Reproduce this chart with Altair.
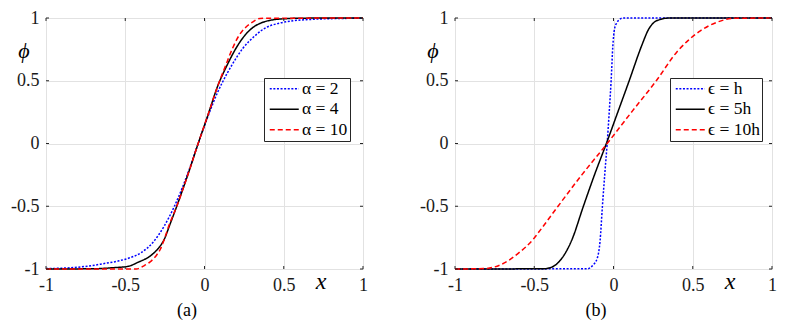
import altair as alt
import pandas as pd

# ---------------- data ----------------
X_TICKS = [-1, -0.5, 0, 0.5, 1]
Y_TICKS = [-1, -0.5, 0, 0.5, 1]

labels_a = ["α = 2", "α = 4", "α = 10"]
labels_b = ["ϵ = h", "ϵ = 5h", "ϵ = 10h"]
captions = ["(a)", "(b)"]
x_label = "x"
y_label = "ϕ"

# panel (a)
x_a2 = [-1.0, -0.85, -0.74, -0.64, -0.54, -0.47, -0.40, -0.32, -0.255, -0.19, -0.10, -0.04,
        0.02, 0.08, 0.11, 0.175, 0.24, 0.32, 0.39, 0.46, 0.56, 0.66, 0.80, 1.0]
phi_a2 = [-0.997, -0.99, -0.978, -0.958, -0.935, -0.91, -0.87, -0.78, -0.66, -0.50, -0.22, 0.0,
          0.21, 0.40, 0.48, 0.63, 0.755, 0.86, 0.925, 0.955, 0.978, 0.988, 0.995, 0.998]

x_a4 = [-1.0, -0.70, -0.58, -0.48, -0.42, -0.34, -0.295, -0.253, -0.221, -0.175, -0.10, -0.04,
        0.02, 0.084, 0.141, 0.196, 0.253, 0.306, 0.36, 0.42, 0.52, 0.65, 1.0]
phi_a4 = [-1.0, -0.998, -0.99, -0.978, -0.947, -0.894, -0.841, -0.761, -0.655, -0.50, -0.23, 0.0,
          0.22, 0.46, 0.62, 0.753, 0.859, 0.925, 0.962, 0.983, 0.995, 0.999, 1.0]

x_a10 = [-1.0, -0.43, -0.41, -0.389, -0.347, -0.305, -0.278, -0.253, -0.225, -0.175, -0.10, -0.04,
         0.02, 0.084, 0.133, 0.175, 0.217, 0.259, 0.306, 0.35, 1.0]
phi_a10 = [-1.0, -1.0, -0.993, -0.979, -0.947, -0.894, -0.841, -0.761, -0.655, -0.50, -0.23, 0.0,
           0.22, 0.46, 0.62, 0.753, 0.859, 0.925, 0.97, 0.997, 1.0]

# panel (b)
x_b1 = [-1.0, -0.165, -0.133, -0.101, -0.085, -0.07, -0.055, -0.04, -0.027, -0.015, -0.004, 0.006,
        0.02, 0.035, 0.057, 1.0]
phi_b1 = [-1.0, -0.998, -0.974, -0.908, -0.78, -0.5, -0.243, 0.0, 0.25, 0.5, 0.78, 0.91,
          0.96, 0.985, 0.999, 1.0]

x_b5 = [-1.0, -0.44, -0.40, -0.36, -0.322, -0.265, -0.19, -0.12, -0.045, 0.03, 0.099, 0.177,
        0.221, 0.253, 0.30, 0.34, 1.0]
phi_b5 = [-1.0, -0.998, -0.99, -0.962, -0.908, -0.775, -0.5, -0.25, 0.0, 0.26, 0.5, 0.777,
          0.909, 0.962, 0.99, 0.999, 1.0]

x_b10 = [-1.0, -0.82, -0.71, -0.596, -0.511, -0.48, -0.35, -0.2, -0.04, 0.12, 0.27, 0.40,
         0.47, 0.55, 0.65, 0.76, 1.0]
phi_b10 = [-1.0, -0.997, -0.965, -0.87, -0.77, -0.72, -0.5, -0.25, 0.0, 0.26, 0.5, 0.73,
           0.82, 0.90, 0.965, 0.997, 1.0]

colors = ["#0000ff", "#000000", "#ff0000"]
dashes = [[2, 1.6], [1, 0], [5, 3]]

# ---------------- layout constants ----------------
PW, PH = 317, 251
FONT = "'Liberation Serif', 'Times New Roman', Times, serif"
BOX = "#262626"


def make_df(xs, ps, labels):
    rows = []
    for xv, pv, lab in zip(xs, ps, labels):
        for a, b in zip(xv, pv):
            rows.append({"x": a, "phi": b, "series": lab})
    return pd.DataFrame(rows)


df_a = make_df([x_a2, x_a4, x_a10], [phi_a2, phi_a4, phi_a10], labels_a)
df_b = make_df([x_b1, x_b5, x_b10], [phi_b1, phi_b5, phi_b10], labels_b)

xscale = alt.Scale(domain=[-1, 1], nice=False, zero=False)
yscale = alt.Scale(domain=[-1, 1], nice=False, zero=False)


def panel(df, labels, legend_x, caption, first):
    leg = alt.Legend(
        title=None, orient="none", legendX=legend_x, legendY=60,
        fillColor="white", strokeColor=BOX, padding=2, rowPadding=1.5,
        symbolType="M-2.9,0H2.9", symbolSize=100, symbolStrokeWidth=1.5,
        symbolOffset=9.5, labelOffset=9,
        labelFont=FONT, labelFontSize=17.5, labelColor="black",
        cornerRadius=0,
    )
    xax = alt.Axis(values=X_TICKS, labelExpr="toString(datum.value)", title=None,
                   grid=True, ticks=False, tickSize=0, domain=False,
                   labelPadding=7, labelFont=FONT, labelFontSize=18, labelColor="#1a1a1a",
                   gridColor="#e2e2e2", labelFlush=False)
    yax = alt.Axis(values=Y_TICKS, labelExpr="toString(datum.value)", title=None,
                   grid=True, ticks=False, tickSize=0, domain=False,
                   labelPadding=7, labelFont=FONT, labelFontSize=18, labelColor="#1a1a1a",
                   gridColor="#e2e2e2", labelFlush=False)

    lines = alt.Chart(df).mark_line(strokeWidth=1.5, interpolate="monotone").encode(
        x=alt.X("x:Q", scale=xscale, axis=xax),
        y=alt.Y("phi:Q", scale=yscale, axis=yax),
        color=alt.Color("series:N", scale=alt.Scale(domain=labels, range=colors), legend=leg),
        strokeDash=alt.StrokeDash("series:N", scale=alt.Scale(domain=labels, range=dashes), legend=leg),
    )

    xt = pd.DataFrame({"x": X_TICKS})
    yt = pd.DataFrame({"phi": Y_TICKS})
    tb = alt.Chart(xt).mark_rule(color=BOX, strokeWidth=1).encode(
        x=alt.X("x:Q", scale=xscale), y=alt.value(PH), y2=alt.value(PH - 3))
    tt = alt.Chart(xt).mark_rule(color=BOX, strokeWidth=1).encode(
        x=alt.X("x:Q", scale=xscale), y=alt.value(0), y2=alt.value(3))
    tl = alt.Chart(yt).mark_rule(color=BOX, strokeWidth=1).encode(
        y=alt.Y("phi:Q", scale=yscale), x=alt.value(0), x2=alt.value(3))
    tr = alt.Chart(yt).mark_rule(color=BOX, strokeWidth=1).encode(
        y=alt.Y("phi:Q", scale=yscale), x=alt.value(PW), x2=alt.value(PW - 3))

    xl = alt.Chart(pd.DataFrame({"t": [x_label]})).mark_text(
        font=FONT, fontSize=24, fontStyle="italic", color="black", align="center", baseline="middle"
    ).encode(text="t:N", x=alt.value(275), y=alt.value(264))
    yl = alt.Chart(pd.DataFrame({"t": [y_label]})).mark_text(
        font=FONT, fontSize=22, fontStyle="italic", color="black", align="center", baseline="middle"
    ).encode(text="t:N", x=alt.value(-22), y=alt.value(33))
    cap = alt.Chart(pd.DataFrame({"t": [caption]})).mark_text(
        font=FONT, fontSize=18, color="black", align="center", baseline="middle"
    ).encode(text="t:N", x=alt.value(141), y=alt.value(293))

    layers = [lines, tb, tt, tl, tr, xl, yl, cap]
    if first:
        anchor = alt.Chart(pd.DataFrame({"t": [0]})).mark_rule(opacity=0, strokeWidth=0.5).encode(
            x=alt.value(-37), x2=alt.value(-36.5), y=alt.value(-9), y2=alt.value(-8.5))
        layers.append(anchor)
    return alt.layer(*layers).properties(width=PW, height=PH)


pa = panel(df_a, labels_a, 218, captions[0], True)
pb = panel(df_b, labels_b, 215, captions[1], False)

chart = alt.hconcat(pa, pb, spacing=92, bounds="flush").resolve_scale(
    color="independent", strokeDash="independent"
).properties(padding=0).configure_view(stroke=BOX, strokeWidth=1).configure(
    background="white"
)

chart.save("out.html", embed_options={"renderer": "svg", "actions": False})
